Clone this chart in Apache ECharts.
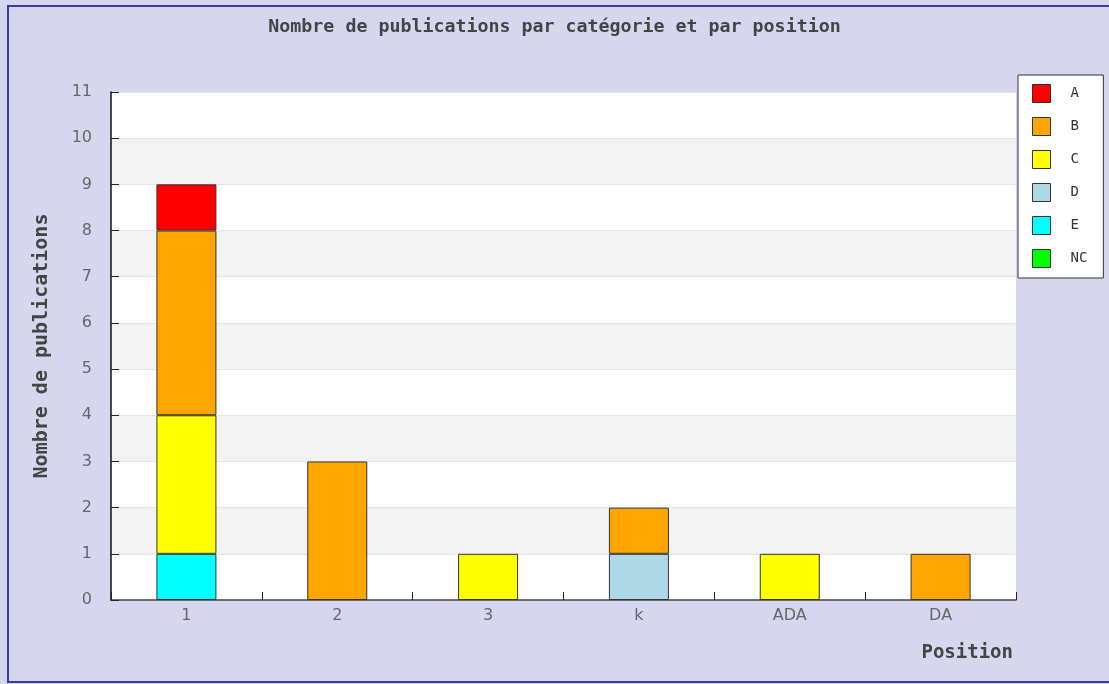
<!DOCTYPE html>
<html>
<head>
<meta charset="utf-8">
<script src="https://cdn.jsdelivr.net/npm/echarts@6/dist/echarts.min.js"></script>
<style>
  html, body { margin: 0; padding: 0; background: #d6d6ee; }
  #chart { width: 1109px; height: 684px; }
</style>
</head>
<body>
<div id="chart"></div>
<script>
// categories on the x axis
const positions = ['1', '2', '3', 'k', 'ADA', 'DA'];
const yTicks = [0, 1, 2, 3, 4, 5, 6, 7, 8, 9, 10, 11];

// publications per category, one value per position
const serieA = [1, 0, 0, 0, 0, 0];
const serieB = [4, 3, 0, 1, 0, 1];
const serieC = [3, 0, 1, 0, 1, 0];
const serieD = [0, 0, 0, 1, 0, 0];
const serieE = [1, 0, 0, 0, 0, 0];
const serieNC = [0, 0, 0, 0, 0, 0];

const legendOrder = ['A', 'B', 'C', 'D', 'E', 'NC'];

// stacking order, bottom first
const stackDefs = [
    { name: 'E', data: serieE, color: '#00ffff' },
    { name: 'NC', data: serieNC, color: '#00ff00' },
    { name: 'D', data: serieD, color: '#add8e6' },
    { name: 'C', data: serieC, color: '#ffff00' },
    { name: 'B', data: serieB, color: '#ffa500' },
    { name: 'A', data: serieA, color: '#ff0000' }
];

const chart = echarts.init(document.getElementById('chart'));

const monoBold = { fontFamily: 'DejaVu Sans Mono', fontWeight: 'bold', color: '#444' };

chart.setOption({
    animation: false,
    backgroundColor: '#d6d6ee',
    title: {
        text: 'Nombre de publications par catégorie et par position',
        left: 'center',
        top: 13,
        textStyle: { ...monoBold, fontSize: 18.3 }
    },
    legend: {
        data: legendOrder,
        orient: 'vertical',
        left: 1018,
        top: 75,
        itemWidth: 18,
        itemHeight: 18,
        itemGap: 14,
        padding: [9, 16, 10, 14],
        backgroundColor: '#fff',
        borderColor: '#333',
        borderWidth: 1,
        borderRadius: 0,
        icon: 'rect',
        itemStyle: { borderColor: '#333', borderWidth: 1 },
        textStyle: {
            fontFamily: 'DejaVu Sans Mono',
            fontSize: 14,
            color: '#333',
            padding: [0, 0, 0, 15]
        }
    },
    grid: { left: 111, right: 93, top: 92, bottom: 84 },
    xAxis: {
        type: 'category',
        data: positions,
        name: 'Position',
        nameLocation: 'end',
        nameGap: -3,
        nameTextStyle: { ...monoBold, fontSize: 19, align: 'right', verticalAlign: 'top', padding: [44, 0, 0, 0] },
        axisLine: { lineStyle: { color: '#444', width: 1.5 } },
        axisTick: { show: true, inside: true, length: 8, lineStyle: { color: '#222' } },
        axisLabel: { margin: 8, fontFamily: 'DejaVu Sans', fontSize: 16, color: '#666' },
        splitLine: { show: false }
    },
    yAxis: {
        type: 'value',
        min: 0,
        max: yTicks[yTicks.length - 1],
        interval: 1,
        name: 'Nombre de publications',
        nameLocation: 'middle',
        nameRotate: 90,
        nameGap: 59,
        nameTextStyle: { ...monoBold, fontSize: 20 },
        axisLine: { show: true, lineStyle: { color: '#111', width: 1.5 } },
        axisTick: { show: true, inside: true, length: 8, lineStyle: { color: '#222' } },
        axisLabel: { margin: 19, fontFamily: 'DejaVu Sans', fontSize: 16, color: '#666' },
        splitLine: { show: true, lineStyle: { color: '#e4e4e4' } },
        splitArea: { show: true, areaStyle: { color: ['#ffffff', '#f3f3f3'] } }
    },
    graphic: [{
        type: 'rect',
        silent: true,
        z: -1,
        shape: { x: 8, y: 6, width: 1110, height: 676 },
        style: { fill: 'none', stroke: '#3a3aa6', lineWidth: 2 }
    }],
    series: stackDefs.map(s => ({
        name: s.name,
        type: 'bar',
        stack: 'total',
        barWidth: 60,
        data: s.data.map(v => (v === 0 ? '-' : v)),
        itemStyle: { color: s.color, borderColor: '#333', borderWidth: 1 }
    }))
});
</script>
</body>
</html>
